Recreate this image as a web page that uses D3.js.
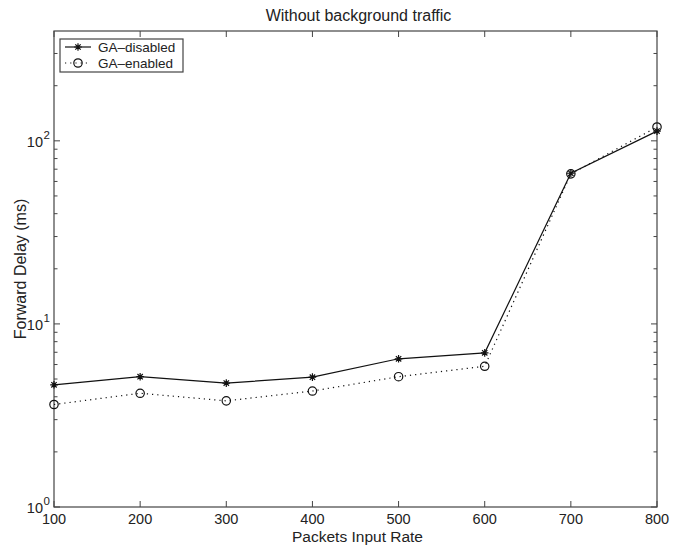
<!DOCTYPE html>
<html>
<head>
<meta charset="utf-8">
<script src="https://cdn.jsdelivr.net/npm/d3@7"></script>
<style>
  body { margin: 0; background: #fff; }
  svg text { font-family: "Liberation Sans", Arial, sans-serif; fill: #222; }
</style>
</head>
<body>
<svg id="chart" width="686" height="548"></svg>
<script>
// data
const rates = [100, 200, 300, 400, 500, 600, 700, 800]
const gaDisabled = [4.65, 5.15, 4.75, 5.12, 6.45, 6.95, 66.5, 113]
const gaEnabled = [3.63, 4.18, 3.8, 4.3, 5.15, 5.87, 66, 119]
const xTicks = [100, 200, 300, 400, 500, 600, 700, 800]
const yDecades = [1, 10, 100]

const svg = d3.select('#chart')
const plotL = 54, plotR = 657, plotT = 31, plotB = 507
const axisColor = '#444'

const x = d3.scaleLinear().domain([100, 800]).range([plotL, plotR])
const y = d3.scaleLog().domain([1, 398]).range([plotB, plotT])

// box
svg.append('rect')
  .attr('x', plotL).attr('y', plotT)
  .attr('width', plotR - plotL).attr('height', plotB - plotT)
  .attr('fill', 'none').attr('stroke', axisColor).attr('stroke-width', 1.2)

// x ticks (bottom and top, pointing inward)
const ticks = svg.append('g').attr('stroke', axisColor).attr('stroke-width', 1)
xTicks.forEach(t => {
  ticks.append('line').attr('x1', x(t)).attr('x2', x(t)).attr('y1', plotB).attr('y2', plotB - 6)
  ticks.append('line').attr('x1', x(t)).attr('x2', x(t)).attr('y1', plotT).attr('y2', plotT + 6)
})

// y ticks, major and minor
let minor = []
yDecades.forEach(d => { for (let k = 2; k <= 9; k++) if (d * k <= 398) minor.push(d * k) })
yDecades.forEach(t => {
  ticks.append('line').attr('x1', plotL).attr('x2', plotL + 6).attr('y1', y(t)).attr('y2', y(t))
  ticks.append('line').attr('x1', plotR).attr('x2', plotR - 6).attr('y1', y(t)).attr('y2', y(t))
})
minor.forEach(t => {
  ticks.append('line').attr('x1', plotL).attr('x2', plotL + 3.5).attr('y1', y(t)).attr('y2', y(t))
  ticks.append('line').attr('x1', plotR).attr('x2', plotR - 3.5).attr('y1', y(t)).attr('y2', y(t))
})

// x tick labels
svg.selectAll('.xlab').data(xTicks).enter().append('text')
  .attr('x', d => x(d)).attr('y', 524)
  .attr('text-anchor', 'middle').attr('font-size', 14.5)
  .text(d => d)

// y tick labels 10^n
yDecades.forEach(d => {
  svg.append('text').attr('x', 43).attr('y', y(d) + 6)
    .attr('text-anchor', 'end').attr('font-size', 14.5).text('10')
  svg.append('text').attr('x', 43.5).attr('y', y(d) - 2)
    .attr('font-size', 11.5).text(Math.round(Math.log10(d)))
})

// titles
svg.append('text').attr('x', (plotL + plotR) / 2 + 3).attr('y', 21)
  .attr('text-anchor', 'middle').attr('font-size', 16).text('Without background traffic')
svg.append('text').attr('x', (plotL + plotR) / 2 + 2).attr('y', 542)
  .attr('text-anchor', 'middle').attr('font-size', 15.5).text('Packets Input Rate')
svg.append('text')
  .attr('transform', 'translate(26,' + ((plotT + plotB) / 2) + ') rotate(-90)')
  .attr('text-anchor', 'middle').attr('font-size', 16).text('Forward Delay (ms)')

// lines
const line = d3.line().x((d, i) => x(rates[i])).y(d => y(d))
svg.append('path').datum(gaEnabled).attr('d', line)
  .attr('fill', 'none').attr('stroke', '#111').attr('stroke-width', 1.2)
  .attr('stroke-dasharray', '1.2,4')
svg.append('path').datum(gaDisabled).attr('d', line)
  .attr('fill', 'none').attr('stroke', '#111').attr('stroke-width', 1.2)

function asterisk (cx, cy, r) {
  let p = ''
  for (let a = 0; a < 4; a++) {
    const ang = a * Math.PI / 4
    const dx = r * Math.cos(ang), dy = r * Math.sin(ang)
    p += 'M' + (cx - dx) + ',' + (cy - dy) + 'L' + (cx + dx) + ',' + (cy + dy)
  }
  return p
}

svg.selectAll('.circ').data(gaEnabled).enter().append('circle')
  .attr('cx', (d, i) => x(rates[i])).attr('cy', d => y(d)).attr('r', 4.2)
  .attr('fill', 'none').attr('stroke', '#111').attr('stroke-width', 1.2)
svg.selectAll('.ast').data(gaDisabled).enter().append('path')
  .attr('d', (d, i) => asterisk(x(rates[i]), y(d), 3.8))
  .attr('stroke', '#111').attr('stroke-width', 1.2)

// legend
const lg = svg.append('g')
lg.append('rect').attr('x', 60).attr('y', 39).attr('width', 123).attr('height', 33)
  .attr('fill', '#fff').attr('stroke', axisColor).attr('stroke-width', 1.2)
lg.append('line').attr('x1', 65).attr('x2', 91).attr('y1', 47).attr('y2', 47)
  .attr('stroke', '#111').attr('stroke-width', 1.2)
lg.append('path').attr('d', asterisk(78, 47, 3.8)).attr('stroke', '#111').attr('stroke-width', 1.2)
lg.append('line').attr('x1', 65).attr('x2', 91).attr('y1', 63).attr('y2', 63)
  .attr('stroke', '#111').attr('stroke-width', 1.2).attr('stroke-dasharray', '1.2,4')
lg.append('circle').attr('cx', 78).attr('cy', 63).attr('r', 4.2)
  .attr('fill', 'none').attr('stroke', '#111').attr('stroke-width', 1.2)
lg.append('text').attr('x', 98).attr('y', 52).attr('font-size', 13.5).text('GA\u2013disabled')
lg.append('text').attr('x', 98).attr('y', 68).attr('font-size', 13.5).text('GA\u2013enabled')
</script>
</body>
</html>
